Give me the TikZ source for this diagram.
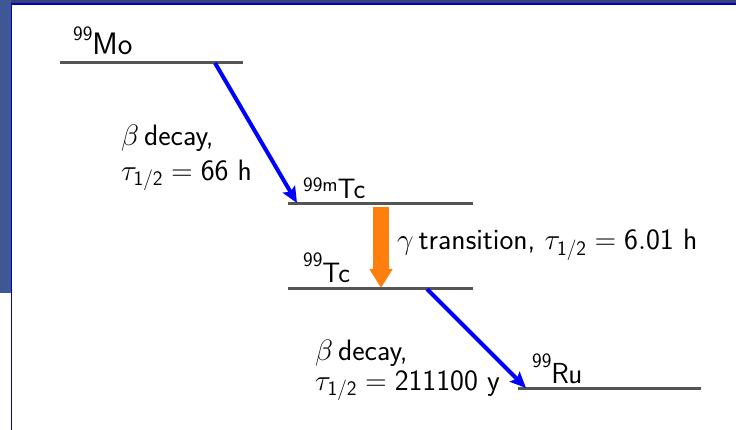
\documentclass[tikz,border=0pt]{standalone}
\usepackage{fix-cm}
\usepackage{fontspec}
\usetikzlibrary{arrows.meta}
\definecolor{levelgray}{RGB}{85,85,85}
\definecolor{arrowblue}{RGB}{0,0,255}
\definecolor{gammaorange}{RGB}{255,127,14}
\definecolor{slidedark}{RGB}{52,66,118}
\definecolor{slideband}{RGB}{62,88,150}
\definecolor{slideline}{RGB}{0,0,190}
\tikzset{
  levelline/.style={levelgray, line width=3pt},
  betaarrow/.style={arrowblue, line width=4pt, -{Stealth[length=16pt,width=14pt,inset=3pt]}},
  gammaarrow/.style={gammaorange, line width=16pt, -{Triangle[length=19pt,width=22pt]}},
  txt/.style={inner sep=0pt, anchor=base west, font=\sffamily\fontsize{29.5}{34}\selectfont},
}
\newcommand{\isosup}[2]{\raisebox{#1}{\fontsize{20.5}{20}\selectfont #2}}
\begin{document}
\begin{tikzpicture}[x=1pt,y=-1pt]
\useasboundingbox (0,0) rectangle (736,430);
% slide background
\fill[white] (0,0) rectangle (736,430);
\fill[slidedark] (0,0) rectangle (736,3.5);
\fill[slideband] (0,0) rectangle (10.5,293);
\draw[slideline, line width=1.8pt] (11.5,430) -- (11.5,4.3) -- (736,4.3);
% levels
\coordinate (moL) at (60,62.5);   \coordinate (moR) at (243,62.5);
\coordinate (tcmL) at (288,204);  \coordinate (tcmR) at (473,204);
\coordinate (tcL) at (288,289);   \coordinate (tcR) at (473,289);
\coordinate (ruL) at (518,388.5); \coordinate (ruR) at (701,388.5);
\draw[levelline] (moL) -- (moR);
\draw[levelline] (tcmL) -- (tcmR);
\draw[levelline] (tcL) -- (tcR);
\draw[levelline] (ruL) -- (ruR);
% level labels
\node[txt] (mo) at (73,55) {\isosup{14pt}{99}\fontsize{31}{30}\selectfont Mo};
\node[txt] (tcm) at (303,198.5) {\isosup{6.5pt}{99m}\fontsize{28}{28}\selectfont Tc};
\node[txt] (tc) at (303,283) {\isosup{16pt}{99}\fontsize{28}{28}\selectfont Tc};
\node[txt] (ru) at (532,383) {\isosup{16pt}{99}\fontsize{29}{29}\selectfont Ru};
% transitions
\coordinate (b1s) at (215,63);  \coordinate (b1e) at (297,203);
\coordinate (gs) at (381,207);  \coordinate (ge) at (381,288);
\coordinate (b2s) at (427,289); \coordinate (b2e) at (526,388);
\draw[betaarrow] (b1s) -- (b1e);
\draw[gammaarrow] (gs) -- (ge);
\draw[betaarrow] (b2s) -- (b2e);
% transition labels
\node[txt] (b1a) at (121,146) {$\beta$\,decay,};
\node[txt] (b1b) at (121,180.5) {$\tau_{\mathsf{1/2}} = \mathsf{66}$ h};
\node[txt] (g) at (397,250) {$\gamma$\,transition, $\tau_{\mathsf{1/2}} = \mathsf{6.01}$ h};
\node[txt] (b2a) at (315,360) {$\beta$\,decay,};
\node[txt] (b2b) at (315,390.5) {$\tau_{\mathsf{1/2}} = \mathsf{211100}$ y};
\end{tikzpicture}
\end{document}
